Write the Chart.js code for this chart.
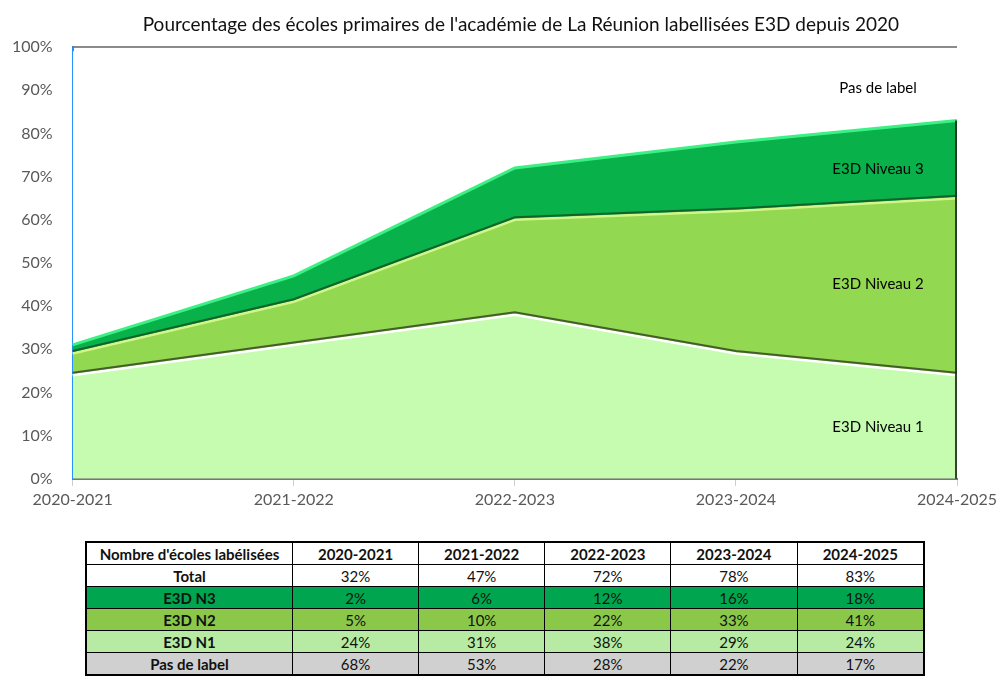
<!DOCTYPE html>
<html>
<head>
<meta charset="utf-8">
<script src="https://cdn.jsdelivr.net/npm/chart.js@4"></script>
<style>
  body { margin: 0; background: #fff; font-family: Lato, "Open Sans", sans-serif; }
  #wrap { position: absolute; left: 0; top: 0; width: 1008px; height: 530px; }
  table { position: absolute; left: 85px; top: 541px; width: 840px; border-collapse: collapse; font-size: 15px; border: 2px solid #000; }
  td { border: 1px solid #000; height: 21px; padding: 0; text-align: center; color: #111; }
  td.h { font-weight: bold; }
  tr.n3 td { background: #00a64f; }
  tr.n2 td { background: #8bc84a; }
  tr.n1 td { background: #b7eba4; }
  tr.pas td { background: #d0d0d0; }
</style>
</head>
<body>
<div id="wrap"><canvas id="chart"></canvas></div>
<table id="tbl"></table>
<script>
// DATA
const chartTitle = 'Pourcentage des écoles primaires de l\'académie de La Réunion labellisées E3D depuis 2020';
const years = ['2020-2021', '2021-2022', '2022-2023', '2023-2024', '2024-2025'];
const niveau1 = [24, 31, 38, 29, 24];
const niveau2 = [5, 10, 22, 33, 41];
const niveau3 = [2, 6, 12, 16, 18];
const pasLabel = [68, 53, 28, 22, 17];
const total = [32, 47, 72, 78, 83];
const yTicks = [0, 10, 20, 30, 40, 50, 60, 70, 80, 90, 100];
const areaLabels = ['E3D Niveau 1', 'E3D Niveau 2', 'E3D Niveau 3', 'Pas de label'];
const areaLabelValues = [12, 45, 71.7, 90.5];

// TABLE
function buildTable(){
    let rows = [
        ['', 'Nombre d\'écoles labélisées', years, true],
        ['', 'Total', total.map(v => v + '%'), false],
        ['n3', 'E3D N3', niveau3.map(v => v + '%'), false],
        ['n2', 'E3D N2', niveau2.map(v => v + '%'), false],
        ['n1', 'E3D N1', niveau1.map(v => v + '%'), false],
        ['pas', 'Pas de label', pasLabel.map(v => v + '%'), false]
    ];
    let html = '';
    rows.forEach(r => {
        html += '<tr class="' + r[0] + '"><td class="h" style="width:205px">' + r[1] + '</td>';
        r[2].forEach(c => {
            html += '<td' + (r[3] ? ' class="h"' : '') + '>' + c + '</td>';
        });
        html += '</tr>';
    });
    document.getElementById('tbl').innerHTML = html;
};
buildTable();

// EXTRA DRAWING: title, bevel shadows, frame, area labels
const decor = {
    id: 'decor',
    afterDatasetsDraw(chart){
        let ctx = chart.ctx;
        let area = chart.chartArea;
        ctx.save();
        // title centred over the plot area
        ctx.fillStyle = '#111';
        ctx.font = '19px Lato';
        ctx.textAlign = 'center';
        ctx.textBaseline = 'middle';
        ctx.fillText(chartTitle, (area.left + area.right) / 2 + 6, 25);
        // top frame shadow
        ctx.strokeStyle = 'rgba(110,110,110,0.8)';
        ctx.lineWidth = 2;
        ctx.beginPath();
        ctx.moveTo(area.left, area.top);
        ctx.lineTo(area.right, area.top);
        ctx.stroke();
        // dark edges above N1 and N2
        [0, 1].forEach(i => {
            let pts = chart.getDatasetMeta(i).data;
            ctx.strokeStyle = i === 0 ? 'rgba(60,80,40,0.9)' : 'rgba(20,90,40,0.9)';
            ctx.lineWidth = 2;
            ctx.beginPath();
            pts.forEach((p, k) => {
                if (k === 0) ctx.moveTo(p.x, p.y - 2.5); else ctx.lineTo(p.x, p.y - 2.5);
            });
            ctx.stroke();
        });
        // right edge of the filled areas
        let top3 = chart.getDatasetMeta(2).data;
        let last = top3[top3.length - 1];
        ctx.strokeStyle = 'rgba(30,50,30,0.9)';
        ctx.lineWidth = 2;
        ctx.beginPath();
        ctx.moveTo(area.right - 1, last.y);
        ctx.lineTo(area.right - 1, area.bottom);
        ctx.stroke();
        // area labels
        ctx.fillStyle = '#000';
        ctx.font = '15px Lato';
        let x = chart.scales.x.getPixelForValue(years.length - 1) - 79;
        areaLabels.forEach((t, i) => {
            ctx.fillText(t, x, chart.scales.y.getPixelForValue(areaLabelValues[i]));
        });
        ctx.restore();
    }
};

// CHART
function plotChart(){
    let ctx = document.getElementById('chart').getContext('2d');
    let myChart = new Chart(ctx, {
        type: 'line',
        data: {
            labels: years,
            datasets: [
                { label: 'E3D Niveau 1', data: niveau1, fill: 'origin', backgroundColor: '#c5fcb0', borderColor: '#ffffff', borderWidth: 2.5 },
                { label: 'E3D Niveau 2', data: niveau2, fill: '-1', backgroundColor: '#92d850', borderColor: '#d2f68a', borderWidth: 2.5 },
                { label: 'E3D Niveau 3', data: niveau3, fill: '-1', backgroundColor: '#08b14a', borderColor: '#3df084', borderWidth: 3 },
                { label: 'Pas de label', data: pasLabel, fill: '-1', backgroundColor: '#ffffff', borderWidth: 0 }
            ]
        },
        options: {
            responsive: true,
            maintainAspectRatio: false,
            animation: false,
            elements: {
                point: { radius: 0, hoverRadius: 0 },
                line: { tension: 0 }
            },
            layout: { padding: { left: 0, right: 51, top: 47, bottom: 17 } },
            plugins: {
                legend: { display: false },
                tooltip: { enabled: false },
                title: { display: false }
            },
            scales: {
                x: {
                    offset: false,
                    grid: { display: true, drawOnChartArea: false, tickLength: 7, color: '#ccc' },
                    border: { color: '#777', width: 2 },
                    ticks: { color: '#595959', font: { family: 'Lato', size: 16 }, padding: 4, maxRotation: 0 }
                },
                y: {
                    stacked: true,
                    min: 0,
                    max: 100,
                    afterBuildTicks: axis => { axis.ticks = yTicks.map(v => ({ value: v })); },
                    grid: { display: false },
                    border: { color: '#1e90ff', width: 2 },
                    ticks: { color: '#595959', font: { family: 'Lato', size: 16 }, padding: 12, callback: v => v + '%' }
                }
            }
        },
        plugins: [decor]
    });
    return myChart;
};
plotChart();
</script>
</body>
</html>
